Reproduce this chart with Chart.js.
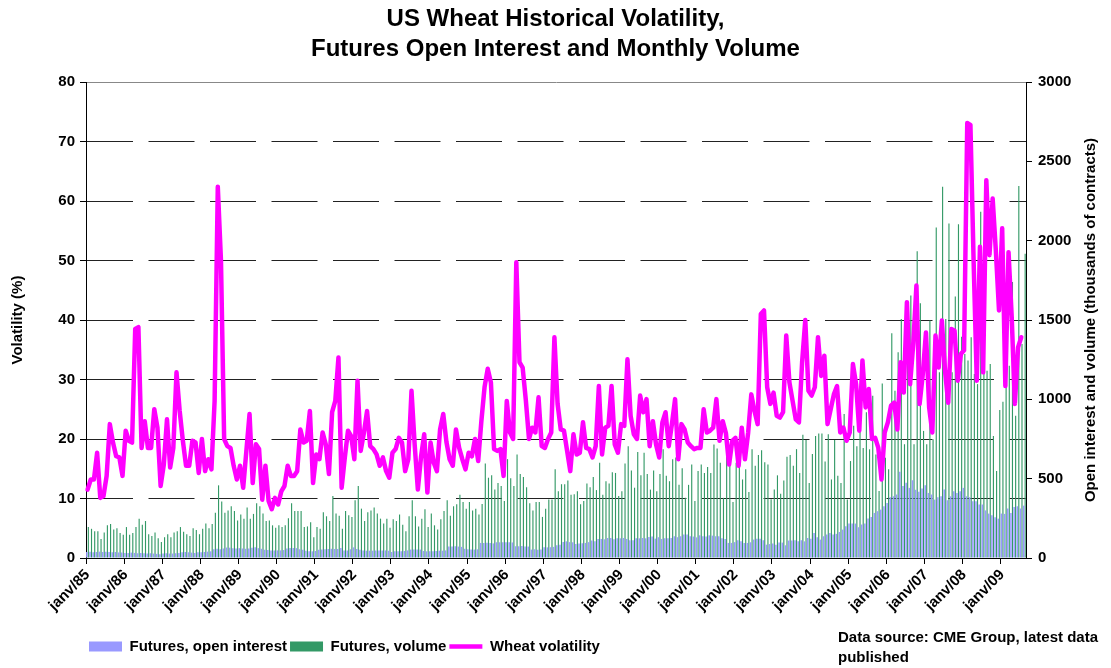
<!DOCTYPE html>
<html>
<head>
<meta charset="utf-8">
<script src="https://cdn.jsdelivr.net/npm/chart.js@4/dist/chart.umd.min.js"></script>
<style>
html,body{margin:0;padding:0;background:#fff;}
#wrap{position:relative;width:1111px;height:668px;}
</style>
</head>
<body>
<div id="wrap"><canvas id="c" width="1111" height="668"></canvas></div>
<script>
// ---- categories ----
const monthNames = ['janv','févr','mars','avr','mai','juin','juil','août','sept','oct','nov','déc'];
const years = ['85','86','87','88','89','90','91','92','93','94','95','96','97','98','99','00','01','02','03','04','05','06','07','08','09'];
const lastYearMonths = 8; // data ends in August 2009
const tickLabels = ['janv/85','janv/86','janv/87','janv/88','janv/89','janv/90','janv/91','janv/92','janv/93','janv/94','janv/95','janv/96','janv/97','janv/98','janv/99','janv/00','janv/01','janv/02','janv/03','janv/04','janv/05','janv/06','janv/07','janv/08','janv/09'];

// ---- series ----
// Wheat volatility (%), left axis
const volatility = [
11.5,13.2,13.2,17.7,10.1,10.4,13.8,22.5,19.4,17.1,
16.9,13.8,21.4,19.7,19.4,38.5,38.8,18.5,23.0,18.5,
18.5,25.0,21.9,12.1,15.7,23.3,15.2,18.5,31.2,24.7,
19.7,15.5,15.5,19.7,19.4,14.3,20.0,14.6,16.6,14.9,
26.4,62.4,50.0,20.0,18.8,18.5,15.5,13.2,15.5,11.8,
18.0,24.2,12.6,19.1,18.3,9.8,15.5,9.6,8.2,10.1,
9.0,11.2,12.1,15.5,13.8,13.8,14.6,21.6,19.4,19.7,
24.7,12.6,17.4,16.6,21.1,19.1,14.1,24.5,26.4,33.7,
11.8,16.9,21.4,20.5,16.6,29.8,18.0,21.0,24.7,18.8,
18.3,17.4,15.5,16.9,14.6,13.5,17.7,18.3,20.2,19.4,
14.6,16.6,28.1,19.0,11.5,17.0,20.8,11.0,19.4,16.0,
14.6,21.6,24.2,19.5,16.6,15.5,21.6,18.5,16.6,14.9,
17.7,17.1,20.0,16.3,23.0,28.7,31.8,29.5,18.3,18.0,
18.3,13.8,26.4,21.1,20.0,49.7,32.9,32.0,26.5,20.0,
21.9,21.1,27.0,18.8,18.5,20.0,21.1,37.1,25.9,21.6,
21.4,18.0,14.6,20.8,17.4,17.7,22.8,18.5,18.3,16.9,
18.8,28.9,17.4,21.9,22.2,28.9,19.1,17.7,22.5,22.2,
33.4,23.9,20.8,20.0,27.3,24.5,26.7,18.8,23.0,19.1,
16.9,22.8,24.5,18.8,22.5,26.7,16.6,22.5,21.6,19.4,
18.8,18.3,18.5,18.5,25.0,21.1,21.4,21.9,26.7,19.7,
23.0,21.0,15.7,19.7,20.2,15.5,21.9,16.6,21.0,27.5,
24.7,22.5,41.0,41.6,28.7,25.9,27.8,23.9,23.6,24.5,
37.4,29.5,26.4,23.3,22.8,32.9,40.0,28.1,27.3,28.7,
37.1,30.6,34.0,22.5,25.0,27.5,28.9,21.1,21.9,19.7,
21.1,32.6,29.2,21.4,33.2,25.3,28.4,20.0,20.2,18.5,
13.2,21.1,22.8,25.6,26.1,21.6,32.9,27.8,43.0,29.2,
36.0,45.8,25.9,30.9,37.9,25.3,21.1,37.4,32.0,39.9,
31.5,26.1,38.5,38.2,29.8,34.3,34.9,73.1,72.8,50.0,
29.8,52.3,31.2,63.5,50.9,60.4,51.7,41.6,55.4,28.9,
51.4,40.5,25.9,35.4,37.1,null
];

// Futures monthly volume (thousands of contracts), right axis
const volume = [
195,184,169,169,120,161,206,214,180,188,158,146,195,146,158,195,248,210,233,150,
139,161,124,101,131,150,131,161,169,195,165,150,139,188,176,150,184,218,188,214,
285,458,356,285,300,326,296,236,
274,248,319,248,278,345,326,281,233,236,206,191,206,195,206,251,345,296,296,296,
195,199,225,131,195,184,289,263,233,390,281,266,184,296,270,259,364,454,311,233,
289,300,319,281,248,218,248,191,244,
233,274,210,169,263,364,263,199,248,308,195,281,206,180,244,296,364,266,326,338,
398,353,311,353,300,311,274,341,596,506,521,431,473,454,360,623,503,454,653,529,
510,446,345,300,353,353,259,311,368,368,559,
420,465,465,488,398,401,420,338,360,469,446,510,428,600,398,484,469,540,536,390,
420,596,705,551,443,668,521,664,529,431,551,420,529,686,518,484,623,634,461,566,
379,461,589,360,548,589,536,574,536,
716,690,600,379,690,694,353,600,660,495,559,416,686,581,649,679,604,589,371,431,
521,405,488,638,649,581,686,536,776,743,473,656,769,784,784,608,780,495,743,518,
473,908,368,611,833,705,833,694,919,
685,1022,653,422,1100,632,559,1417,1054,1296,1507,717,1613,1655,717,1933,1606,801,717,1497,
748,2083,1170,2340,1507,2108,1170,1648,2104,1395,1286,1244,1391,1159,1096,2182,1845,1180,1223,769,
548,932,984,1244,1212,1739,896,2344,1349,1918
];

// Futures open interest (thousands of contracts), right axis
const openInterest = [
38,40,36,38,40,38,40,38,36,38,35,34,
32,32,34,32,30,32,30,28,30,28,26,24,
28,30,28,28,30,32,36,38,36,34,32,36,
36,38,40,42,55,58,55,60,66,65,62,60,
62,60,58,60,64,67,62,58,52,50,48,48,
48,48,50,60,63,63,62,55,52,45,42,42,
44,52,53,55,56,58,57,57,63,48,48,55,
67,56,52,48,46,46,46,47,48,48,48,46,
38,42,42,42,44,48,53,53,53,53,44,42,
42,42,44,46,46,48,72,72,74,72,70,58,
55,53,53,55,95,95,96,94,92,99,99,100,
99,100,98,74,74,75,72,72,53,55,52,53,
67,67,68,70,
80,84,101,105,100,99,88,91,93,95,100,110,105,120,120,118,126,126,118,124,
124,126,120,112,112,124,124,126,124,133,135,122,131,120,124,124,126,137,131,137,
148,148,137,135,130,143,137,135,143,
141,137,137,124,120,95,95,100,112,105,95,95,99,116,122,122,112,84,88,91,
84,97,97,80,110,110,112,105,
112,105,126,122,158,131,116,137,148,158,148,152,164,179,200,217,217,217,194,211,
217,249,259,284,295,305,326,347,383,389,400,543,453,474,442,490,430,417,438,459,
410,400,368,383,389,432,364,389,421,410,421,442,389,383,358,358,337,337,300,280,
270,257,248,280,278,312,284,322,326,312,330
];

const chartTitle = ['US Wheat Historical Volatility,', 'Futures Open Interest and Monthly Volume'];
const leftAxisTitle = 'Volatility (%)';
const rightAxisTitle = 'Open interest and volume (thousands of contracts)';
const sourceNote = ['Data source: CME Group, latest data', 'published'];

// build category labels
const categories = [];
years.forEach((y, yi) => {
  const n = (yi === years.length - 1) ? lastYearMonths : 12;
  for (let m = 0; m < n; m++) categories.push(monthNames[m] + '/' + y);
});

const FONT = '"Liberation Sans", Arial, Helvetica, sans-serif';
Chart.defaults.font.family = FONT;
Chart.defaults.color = '#000';

const extraText = {
  id: 'extraText',
  afterDraw(chart) {
    const ctx = chart.ctx;
    const a = chart.chartArea;
    const r = chart.scales.y1;
    ctx.save();
    ctx.fillStyle = '#000';
    ctx.font = 'bold 15px ' + FONT;
    ctx.textAlign = 'center';
    ctx.textBaseline = 'middle';
    ctx.translate(r.right - 20, (a.top + a.bottom) / 2);
    ctx.rotate(-Math.PI / 2);
    ctx.fillText(rightAxisTitle, 0, 0);
    ctx.restore();

    ctx.save();
    ctx.fillStyle = '#000';
    ctx.font = 'bold 15px ' + FONT;
    ctx.textAlign = 'left';
    ctx.textBaseline = 'middle';
    ctx.fillText(sourceNote[0], 838, 638);
    ctx.fillText(sourceNote[1], 838, 658);
    ctx.restore();
  }
};

new Chart(document.getElementById('c'), {
  type: 'bar',
  data: {
    labels: categories,
    datasets: [
      { type: 'bar', label: 'Futures, open interest', data: openInterest, yAxisID: 'y1',
        backgroundColor: '#9999FF', borderWidth: 0, order: 1, pointStyle: 'rect',
        categoryPercentage: 0.95, barPercentage: 1.0 },
      { type: 'bar', label: 'Futures, volume', data: volume, yAxisID: 'y1',
        backgroundColor: '#339966', borderWidth: 0, order: 1, pointStyle: 'rect',
        categoryPercentage: 0.95, barPercentage: 0.75 },
      { type: 'line', label: 'Wheat volatility', data: volatility, yAxisID: 'y',
        borderColor: '#FF00FF', backgroundColor: '#FF00FF', borderWidth: 4.5,
        pointRadius: 0, pointHoverRadius: 0, pointBorderWidth: 4.5, pointBorderColor: '#FF00FF',
        tension: 0, order: 0, pointStyle: 'line',
        borderJoinStyle: 'round', borderCapStyle: 'round', spanGaps: false }
    ]
  },
  options: {
    responsive: false,
    animation: false,
    devicePixelRatio: 1,
    layout: { padding: { top: 0, left: 0, right: 0, bottom: 4 } },
    plugins: {
      title: {
        display: true, text: chartTitle, color: '#000',
        font: { size: 24, weight: 'bold', lineHeight: 1.25 },
        padding: { top: 4, bottom: 18 }
      },
      legend: {
        display: true, position: 'bottom', align: 'start', fullSize: false,
        labels: {
          usePointStyle: true, pointStyleWidth: 33, boxHeight: 10, padding: 3,
          color: '#000', font: { size: 15, weight: 'bold' },
          sort: (a, b) => a.datasetIndex - b.datasetIndex
        }
      },
      tooltip: { enabled: false }
    },
    scales: {
      x: {
        type: 'category', offset: true,
        grid: {
          display: true, drawOnChartArea: false, drawTicks: true, tickLength: 6, offset: true,
          lineWidth: 1,
          tickColor: (ctx) => (ctx.index !== undefined && ctx.index % 12 === 0) ? '#000' : 'rgba(0,0,0,0)'
        },
        border: { display: true, color: '#000', width: 1 },
        ticks: {
          autoSkip: false, maxRotation: 45, minRotation: 45, padding: 2,
          color: '#000', font: { size: 15, weight: 'bold' },
          callback: function (v) { const l = this.getLabelForValue(v); return tickLabels.includes(l) ? l : ''; }
        },
        afterFit(s) { s.height = 78; }
      },
      y: {
        position: 'left', min: 0, max: 80,
        ticks: { stepSize: 10, padding: 5, color: '#000', font: { size: 15, weight: 'bold' } },
        grid: {
          color: (ctx) => (ctx.tick && ctx.tick.value === 80) ? '#888' : '#222',
          lineWidth: 1, drawTicks: true, tickLength: 6, tickColor: '#000'
        },
        border: {
          display: true, color: '#000', width: 1,
          dash: (ctx) => (ctx.tick && ctx.tick.value === 80) ? [] : [46, 15.5], dashOffset: 0
        },
        title: { display: true, text: leftAxisTitle, color: '#000', font: { size: 15, weight: 'bold' }, padding: { top: 9, bottom: 0 } },
        afterFit(s) { s.width = 86; }
      },
      y1: {
        position: 'right', min: 0, max: 3000,
        ticks: { stepSize: 500, padding: 6, color: '#000', font: { size: 15, weight: 'bold' },
                 callback: (v) => String(v) },
        grid: { drawOnChartArea: false, drawTicks: true, tickLength: 6, tickColor: '#000' },
        border: { display: true, color: '#000', width: 1 },
        afterFit(s) { s.width = 85; }
      }
    }
  },
  plugins: [extraText]
});
</script>
</body>
</html>
